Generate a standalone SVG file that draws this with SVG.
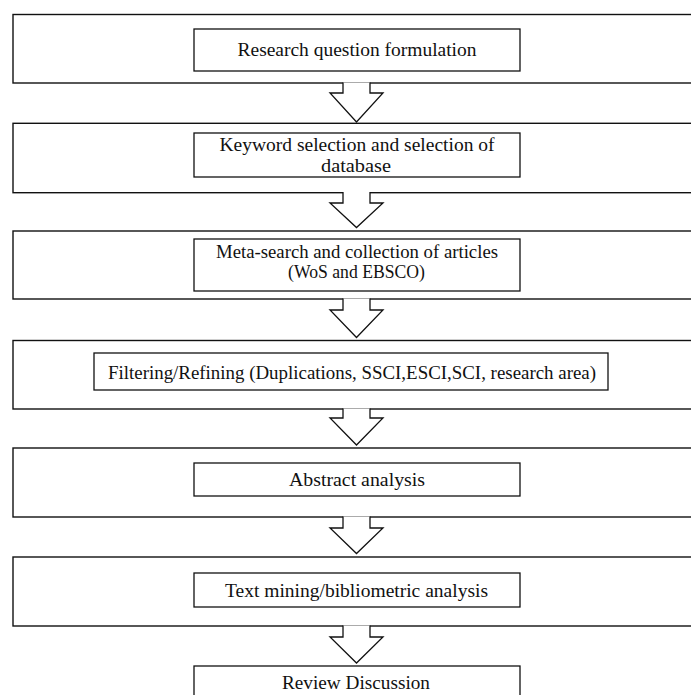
<svg xmlns="http://www.w3.org/2000/svg" width="691" height="695" viewBox="0 0 691 695">
<style>
.outer{fill:#fff;stroke:#111;stroke-width:1.4}
.inner{fill:#fff;stroke:#111;stroke-width:1.3}
.t{font-family:"Liberation Serif","Times New Roman",serif;font-size:18px;fill:#111;text-anchor:middle}
.arr{fill:#fff;stroke:#111;stroke-width:1.3;stroke-linejoin:miter}
</style>
<rect width="691" height="695" fill="#fff"/>
<g id="stage1">
<rect class="outer" x="13" y="14.5" width="700" height="68.5"/>
<rect id="n1" class="inner" x="194" y="29" width="326" height="42"/>
<text class="t" x="357" y="56" textLength="239" lengthAdjust="spacingAndGlyphs">Research question formulation</text>
</g>
<g id="stage2">
<rect class="outer" x="13" y="123.3" width="700" height="69.4"/>
<rect id="n2" class="inner" x="194" y="133" width="326" height="44"/>
<text class="t" x="357" y="151" textLength="275" lengthAdjust="spacingAndGlyphs">Keyword selection and selection of</text>
<text class="t" x="356" y="172" textLength="70" lengthAdjust="spacingAndGlyphs">database</text>
</g>
<g id="stage3">
<rect class="outer" x="13" y="231" width="700" height="68"/>
<rect id="n3" class="inner" x="194" y="239" width="326" height="52"/>
<text class="t" x="357" y="258" textLength="282" lengthAdjust="spacingAndGlyphs">Meta-search and collection of articles</text>
<text class="t" x="356.5" y="278" textLength="137" lengthAdjust="spacingAndGlyphs">(WoS and EBSCO)</text>
</g>
<g id="stage4">
<rect class="outer" x="13" y="340.5" width="700" height="68.5"/>
<rect id="n4" class="inner" x="94" y="353" width="514" height="37"/>
<text class="t" x="352" y="378.5" textLength="488" lengthAdjust="spacingAndGlyphs">Filtering/Refining (Duplications, SSCI,ESCI,SCI, research area)</text>
</g>
<g id="stage5">
<rect class="outer" x="13" y="448" width="700" height="69"/>
<rect id="n5" class="inner" x="194" y="463" width="326" height="33"/>
<text class="t" x="357" y="486" textLength="136" lengthAdjust="spacingAndGlyphs">Abstract analysis</text>
</g>
<g id="stage6">
<rect class="outer" x="13" y="557" width="700" height="69"/>
<rect id="n6" class="inner" x="194" y="573" width="326" height="34"/>
<text class="t" x="356.5" y="596.5" textLength="263" lengthAdjust="spacingAndGlyphs">Text mining/bibliometric analysis</text>
</g>
<g id="stage7">
<rect id="n7" class="inner" x="194" y="666" width="326" height="40"/>
<text class="t" x="356" y="688.5" textLength="148" lengthAdjust="spacingAndGlyphs">Review Discussion</text>
</g>
<g id="connectors">
<path class="arr" d="M343,82.4 V93 H330 L356.5,122 L383,93 H370 V82.4"/>
<path class="arr" d="M343,192 V203 H330 L356.5,227.5 L383,203 H370 V192"/>
<path class="arr" d="M343,298.4 V310 H330 L356.5,337.5 L383,310 H370 V298.4"/>
<path class="arr" d="M343,408.4 V418 H330 L356.5,445 L383,418 H370 V408.4"/>
<path class="arr" d="M343,516.4 V528 H330 L356.5,553.5 L383,528 H370 V516.4"/>
<path class="arr" d="M343,625.4 V637 H330 L356.5,663 L383,637 H370 V625.4"/>
</g>
</svg>
